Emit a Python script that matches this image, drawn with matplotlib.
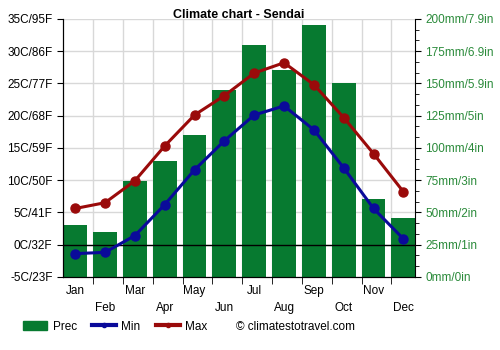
import matplotlib
matplotlib.use("Agg")
import matplotlib.pyplot as plt
import numpy as np
from matplotlib.patches import Patch
from matplotlib.lines import Line2D

plt.rcParams['font.family'] = ['Liberation Sans', 'DejaVu Sans']

months = ["Jan", "Feb", "Mar", "Apr", "May", "Jun", "Jul", "Aug", "Sep", "Oct", "Nov", "Dec"]
prec = [40, 35, 74, 90, 110, 145, 180, 160, 195, 150, 60, 46]
tmin = [-1.4, -1.2, 1.4, 6.2, 11.6, 16.1, 20.1, 21.5, 17.8, 11.9, 5.6, 0.9]
tmax = [5.6, 6.5, 9.9, 15.3, 20.1, 23.1, 26.6, 28.2, 24.8, 19.7, 14.1, 8.2]
temp_labels = ["-5C/23F", "0C/32F", "5C/41F", "10C/50F", "15C/59F", "20C/68F",
               "25C/77F", "30C/86F", "35C/95F"]
prec_labels = ["0mm/0in", "25mm/1in", "50mm/2in", "75mm/3in", "100mm/4in",
               "125mm/5in", "150mm/5.9in", "175mm/6.9in", "200mm/7.9in"]

green = '#077a30'
blue = '#0a0a9a'
red = '#9a0a0a'

fig = plt.figure(figsize=(5, 3.5), dpi=100)
ax = fig.add_axes([0.126, 0.209, 0.704, 0.737])
ax2 = ax.twinx()

x = np.arange(12)

# precipitation on the right axis
ax2.bar(x, prec, width=0.8, color=green, zorder=2)
ax2.set_ylim(0, 200)
ax2.set_yticks(np.arange(0, 201, 25))
ax2.set_yticklabels(prec_labels, color='#2a8a3a', fontsize=8.5)
ax2.set_yticks(np.arange(0, 201, 25 / 3), minor=True)
ax2.tick_params(axis='y', which='major', length=4)
ax2.tick_params(axis='y', which='minor', length=3)

# temperatures on the left axis, drawn above bars
ax.set_zorder(ax2.get_zorder() + 1)
ax.patch.set_visible(False)
ax.plot(x, tmin, color=blue, lw=2.2, marker='o', ms=6.5, zorder=4)
ax.plot(x, tmax, color=red, lw=2.2, marker='o', ms=6.5, zorder=4)
ax.axhline(0, color='black', lw=1, zorder=3)
ax.set_ylim(-5, 35)
ax.set_yticks(np.arange(-5, 36, 5))
ax.set_yticklabels(temp_labels, fontsize=8.5)
ax.tick_params(axis='y', length=4)

ax.set_xlim(-0.41, 11.39)
ax.set_xticks(x)
labels = [m if i % 2 == 0 else "\n" + m for i, m in enumerate(months)]
ax.set_xticklabels(labels, fontsize=8.5, linespacing=1.55)
ax.tick_params(axis='x', which='major', length=0, pad=6)
ax.set_xticks(np.arange(0.6, 11, 1), minor=True)
ax.tick_params(axis='x', which='minor', length=5)

# grid drawn behind bars on the lower axis
for yv in np.arange(-5, 36, 5):
    ax2.axhline((yv + 5) * 5, color='#d8d8d8', lw=1, zorder=1)
for xv in np.arange(0.6, 11, 1):
    ax2.axvline(xv, color='#d8d8d8', lw=1, zorder=1)

for a in (ax, ax2):
    a.spines['top'].set_visible(False)
ax.spines['right'].set_visible(False)

fig.text(0.478, 0.958, "Climate chart - Sendai", ha='center', va='center',
         fontsize=9, fontweight='bold')

# legend
handles = [Patch(color=green),
           Line2D([], [], color=blue, lw=3, marker='o', ms=3),
           Line2D([], [], color=red, lw=3, marker='o', ms=3)]
fig.legend(handles, ["Prec", "Min", "Max"], loc='center left',
           bbox_to_anchor=(0.046, 0.067), ncol=3, frameon=False, fontsize=8.5,
           handlelength=2.0, columnspacing=1.3, handletextpad=0.5, borderpad=0,
           borderaxespad=0)
fig.text(0.472, 0.067, "\u00a9 climatestotravel.com", ha='left', va='center',
         fontsize=8.5)

fig.savefig("out.png", dpi=100)
